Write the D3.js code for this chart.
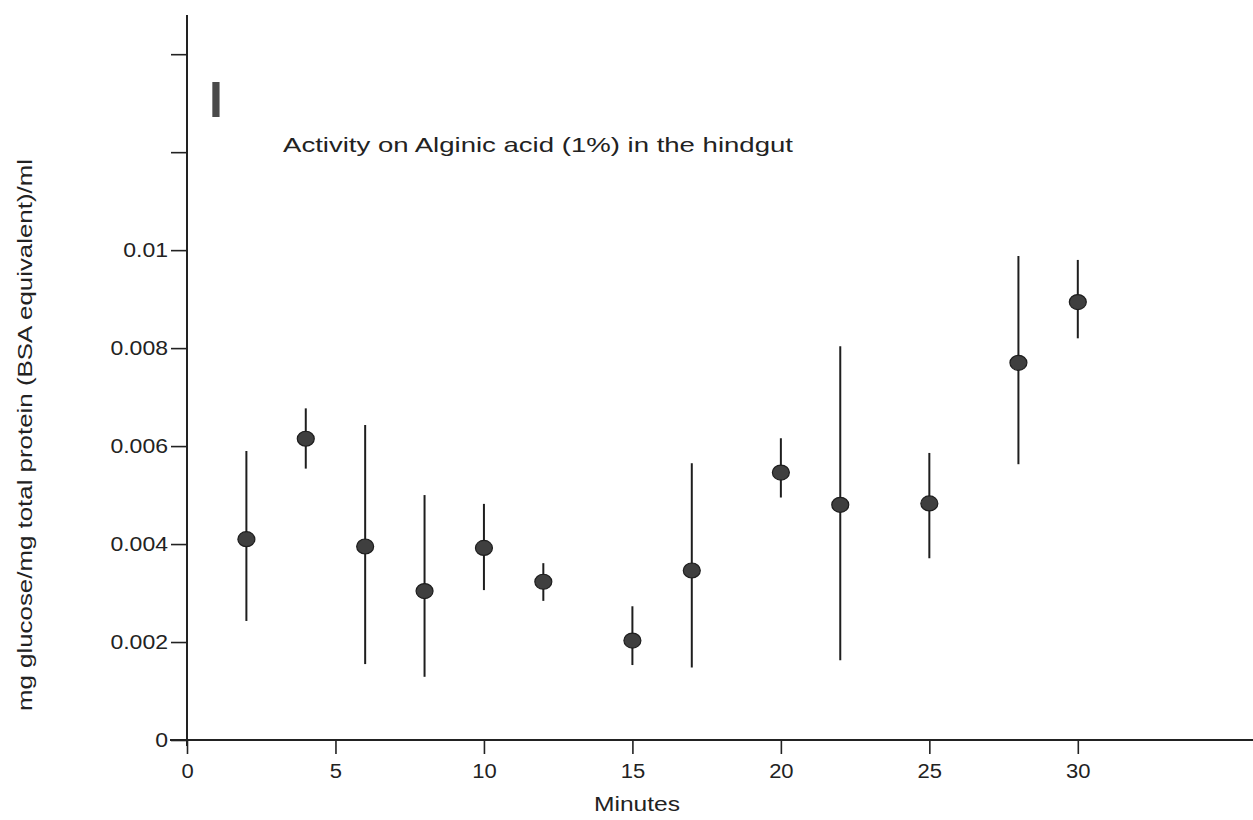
<!DOCTYPE html>
<html>
<head>
<meta charset="utf-8">
<script src="https://cdn.jsdelivr.net/npm/d3@7"></script>
<style>
  html, body { margin: 0; padding: 0; background: #fff; }
  svg { display: block; }
  text { font-family: "Liberation Sans", Arial, Helvetica, sans-serif; fill: #222; }
</style>
</head>
<body>
<svg id="chart" width="1253" height="820"></svg>
<script>
// ---- data ----
const minutes = [2, 4, 6, 8, 10, 12, 15, 17, 20, 22, 25, 28, 30];
const means   = [0.00410, 0.00615, 0.00395, 0.00304, 0.00392, 0.00323, 0.00203, 0.00346, 0.00546, 0.00480, 0.00483, 0.00770, 0.00894];
const upper   = [0.00590, 0.00677, 0.00643, 0.00500, 0.00482, 0.00361, 0.00273, 0.00565, 0.00616, 0.00804, 0.00586, 0.00988, 0.00980];
const lower   = [0.00243, 0.00554, 0.00155, 0.00129, 0.00306, 0.00284, 0.00153, 0.00148, 0.00495, 0.00163, 0.00371, 0.00563, 0.00820];
const xTicks  = [0, 5, 10, 15, 20, 25, 30];
const yTicks  = [0, 0.002, 0.004, 0.006, 0.008, 0.01, 0.012, 0.014];
const yTickLabels = ["0", "0.002", "0.004", "0.006", "0.008", "0.01", "", ""];
const titleText = "Activity on Alginic acid (1%) in the hindgut";
const xLabel = "Minutes";
const yLabel = "mg glucose/mg total protein (BSA equivalent)/ml";
const panelMark = "I";

// ---- layout ----
const svg = d3.select("#chart");
const x = d3.scaleLinear().domain([0, 35.9]).range([187, 1253]);
const y = d3.scaleLinear().domain([0, 0.0148]).range([740, 15]);

function stretch(sel, factor) {
  sel.each(function () {
    const n = this.getComputedTextLength();
    if (n > 0) {
      d3.select(this).attr("textLength", n * factor).attr("lengthAdjust", "spacingAndGlyphs");
    }
  });
}

// Y axis
const yAxis = svg.append("g")
  .attr("transform", `translate(${x(0)},0)`)
  .call(d3.axisLeft(y).tickValues(yTicks).tickSize(16).tickPadding(3)
    .tickFormat((d, i) => yTickLabels[i]));
yAxis.select(".domain").attr("stroke", "#222").attr("stroke-width", 2)
  .attr("d", `M0,${y(y.domain()[1])}V${y(0) + 6}`);
yAxis.selectAll(".tick line").attr("stroke", "#222").attr("stroke-width", 1.6);
yAxis.selectAll(".tick text").attr("font-size", 20).attr("fill", "#222");
stretch(yAxis.selectAll(".tick text"), 1.15);

// X axis
const xAxis = svg.append("g")
  .attr("transform", `translate(0,${y(0)})`)
  .call(d3.axisBottom(x).tickValues(xTicks).tickSize(14).tickPadding(10)
    .tickFormat(d3.format("d")));
xAxis.select(".domain").attr("stroke", "#222").attr("stroke-width", 2)
  .attr("d", `M${x(0) - 17},0H1253`);
xAxis.selectAll(".tick line").attr("stroke", "#222").attr("stroke-width", 1.6);
xAxis.selectAll(".tick text").attr("font-size", 20).attr("fill", "#222");
stretch(xAxis.selectAll(".tick text"), 1.1);

// error bars
const data = minutes.map((m, i) => ({ m, mean: means[i], hi: upper[i], lo: lower[i] }));
svg.append("g").selectAll("line")
  .data(data).join("line")
  .attr("x1", d => x(d.m)).attr("x2", d => x(d.m))
  .attr("y1", d => y(d.hi)).attr("y2", d => y(d.lo))
  .attr("stroke", "#1e1e1e").attr("stroke-width", 2);

// points
svg.append("g").selectAll("ellipse")
  .data(data).join("ellipse")
  .attr("cx", d => x(d.m)).attr("cy", d => y(d.mean))
  .attr("rx", 8.5).attr("ry", 7.5)
  .attr("fill", "#3f3f3f").attr("stroke", "#1e1e1e").attr("stroke-width", 1.2);

// panel mark
svg.append("text")
  .attr("x", 209).attr("y", 117)
  .attr("font-size", 50).attr("font-weight", "bold")
  .style("fill", "#4a4a4a")
  .text(panelMark);

// title
svg.append("text")
  .attr("x", 283).attr("y", 152)
  .attr("font-size", 21)
  .attr("textLength", 510).attr("lengthAdjust", "spacingAndGlyphs")
  .text(titleText);

// x label
svg.append("text")
  .attr("x", 637).attr("y", 811)
  .attr("text-anchor", "middle")
  .attr("font-size", 21)
  .attr("textLength", 86).attr("lengthAdjust", "spacingAndGlyphs")
  .text(xLabel);

// y label
svg.append("text")
  .attr("transform", "translate(32,435) rotate(-90)")
  .attr("text-anchor", "middle")
  .attr("font-size", 20)
  .attr("textLength", 552).attr("lengthAdjust", "spacingAndGlyphs")
  .text(yLabel);
</script>
</body>
</html>
